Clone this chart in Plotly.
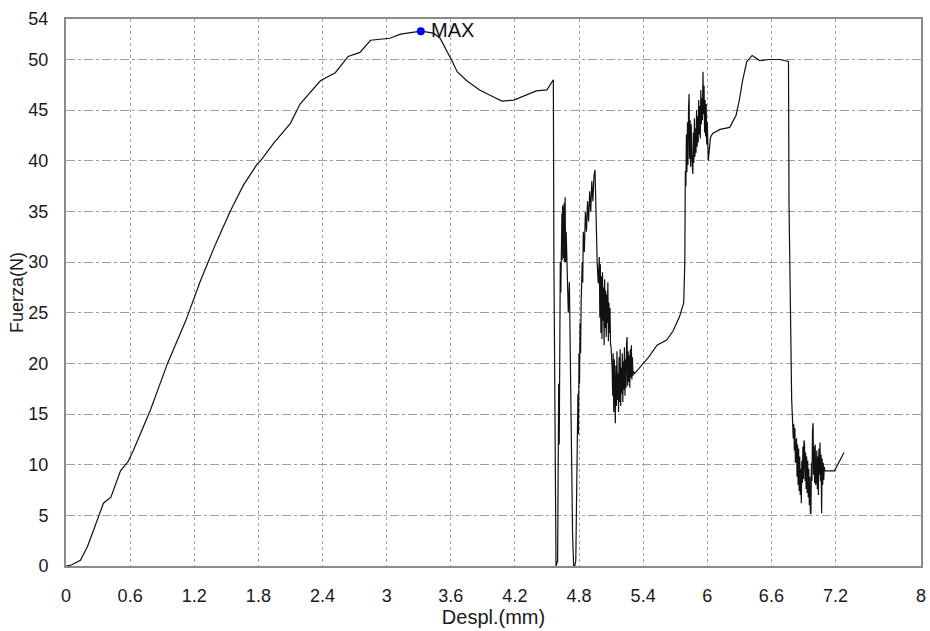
import plotly.graph_objects as go

# ---- Data: displacement (mm) / force (N) ----
# loading branch up to the maximum and the first plateau
rise_x = [0.0, 0.05, 0.135, 0.2, 0.26, 0.32, 0.35, 0.42, 0.51, 0.58, 0.63, 0.79, 0.95, 1.12, 1.26, 1.40,
          1.54, 1.66, 1.79, 1.82, 1.94, 2.10, 2.19, 2.38, 2.52, 2.64, 2.75, 2.85, 2.94, 3.03, 3.13,
          3.27, 3.32, 3.44, 3.50, 3.61, 3.66, 3.75, 3.87, 4.00, 4.08, 4.19, 4.31, 4.40, 4.50, 4.56]
rise_y = [0.0, 0.1, 0.56, 1.9, 3.6, 5.2, 6.2, 6.8, 9.4, 10.3, 11.4, 15.4, 20.0, 24.2, 28.2, 31.8,
          35.1, 37.6, 39.7, 40.0, 41.7, 43.7, 45.6, 47.9, 48.7, 50.3, 50.7, 51.9, 52.0, 52.1, 52.5,
          52.7, 52.8, 52.6, 52.1, 49.9, 48.8, 47.9, 47.0, 46.3, 45.9, 46.0, 46.5, 46.9, 47.0, 48.0]

# first failure and recovery peaks
seg1_x = [4.565, 4.575, 4.585, 4.600, 4.605, 4.610, 4.615, 4.620, 4.625, 4.630, 4.633, 4.636, 4.640,
          4.643, 4.646, 4.650, 4.653, 4.656, 4.660, 4.663, 4.666, 4.670, 4.675, 4.680, 4.690, 4.700,
          4.710, 4.720, 4.730, 4.740, 4.750, 4.760, 4.770, 4.780, 4.785, 4.790, 4.795, 4.800, 4.805,
          4.810, 4.815, 4.820, 4.830, 4.835, 4.840, 4.850, 4.860, 4.870, 4.880, 4.890, 4.900, 4.910,
          4.920, 4.930, 4.940, 4.950, 4.955, 4.960, 4.970, 4.980]
seg1_y = [30.5, 11.5, 0.0, 0.5, 12.0, 18.0, 12.0, 22.0, 30.0, 27.0, 33.5, 29.0, 34.8,
          30.2, 35.6, 31.0, 35.4, 30.4, 35.8, 30.0, 34.6, 36.4, 30.0, 33.0, 29.0, 25.0,
          28.0, 20.0, 9.5, 3.0, 0.0, 0.0, 0.5, 8.0, 12.0, 17.0, 13.0, 21.0, 18.0,
          24.0, 21.0, 26.0, 30.0, 28.0, 33.0, 31.0, 35.0, 33.0, 36.0, 34.0, 37.0, 35.0,
          38.0, 36.0, 38.5, 39.1, 36.0, 33.5, 30.0, 27.9]

# noisy descent 4.99 - 5.31
seg2_x = [4.990, 4.995, 5.000, 5.005, 5.010, 5.015, 5.020, 5.025, 5.030, 5.035, 5.040, 5.045, 5.050,
          5.055, 5.060, 5.065, 5.070, 5.075, 5.080, 5.085, 5.090, 5.095, 5.100, 5.110, 5.115, 5.120,
          5.125, 5.130, 5.135, 5.140, 5.145, 5.150, 5.155, 5.160, 5.165, 5.170, 5.175, 5.180, 5.185,
          5.190, 5.195, 5.200, 5.205, 5.210, 5.215, 5.220, 5.225, 5.230, 5.235, 5.240, 5.245, 5.250,
          5.255, 5.260, 5.265, 5.270, 5.275, 5.280, 5.285, 5.290, 5.295, 5.300, 5.305, 5.310]
seg2_y = [30.5, 24.5, 29.8, 23.0, 28.6, 22.4, 29.0, 24.2, 27.5, 21.8, 28.3, 23.5, 27.2,
          22.6, 26.8, 24.0, 28.0, 22.2, 26.0, 23.0, 25.5, 21.9, 21.6, 19.6, 16.8, 21.0,
          15.2, 20.4, 14.6, 14.1, 19.8, 15.8, 21.2, 16.4, 19.0, 15.2, 20.6, 16.2, 21.4,
          15.8, 19.6, 17.0, 21.0, 16.2, 20.2, 17.4, 21.6, 16.8, 20.4, 17.6, 22.0, 22.6,
          17.8, 21.2, 18.2, 20.8, 17.6, 21.4, 18.6, 21.8, 18.4, 20.6, 18.8, 19.2]

# smooth rise to second noisy block
seg3_x = [5.32, 5.37, 5.42, 5.45, 5.53, 5.62, 5.68, 5.74, 5.78]
seg3_y = [19.0, 19.6, 20.3, 20.6, 21.8, 22.3, 23.2, 24.6, 26.0]

# second noisy block 5.79 - 6.05
seg4_x = [5.790, 5.795, 5.800, 5.805, 5.810, 5.815, 5.820, 5.825, 5.830, 5.835, 5.840, 5.845, 5.850,
          5.855, 5.860, 5.865, 5.870, 5.875, 5.880, 5.885, 5.890, 5.895, 5.900, 5.905, 5.910, 5.915,
          5.920, 5.925, 5.930, 5.935, 5.940, 5.945, 5.950, 5.955, 5.960, 5.965, 5.970, 5.975, 5.980,
          5.985, 5.990, 5.995, 6.000, 6.005, 6.010, 6.030, 6.050]
seg4_y = [30.0, 39.0, 37.5, 42.6, 38.9, 43.8, 39.6, 45.2, 46.6, 40.2, 44.0, 39.4, 43.6,
          40.6, 39.2, 38.7, 42.8, 39.8, 44.2, 40.4, 43.2, 40.8, 45.0, 41.4, 44.4, 41.8,
          46.0, 42.6, 45.4, 42.2, 47.0, 43.6, 46.2, 44.0, 48.8, 44.6, 47.4, 42.8, 46.0,
          42.4, 45.6, 41.6, 43.8, 41.0, 40.0, 42.3, 42.7]

# second plateau
seg5_x = [6.12, 6.21, 6.27, 6.30, 6.33, 6.37, 6.42, 6.49, 6.58, 6.68, 6.76, 6.765]
seg5_y = [43.1, 43.3, 44.5, 46.0, 47.9, 49.8, 50.4, 49.9, 50.0, 50.0, 49.8, 35.8]

# final noisy tail
seg6_x = [6.790, 6.795, 6.800, 6.805, 6.810, 6.815, 6.820, 6.825, 6.830, 6.835, 6.840, 6.845, 6.850,
          6.855, 6.860, 6.865, 6.870, 6.875, 6.880, 6.885, 6.890, 6.895, 6.900, 6.905, 6.910, 6.915,
          6.920, 6.925, 6.930, 6.935, 6.940, 6.945, 6.950, 6.955, 6.960, 6.965, 6.970, 6.975, 6.980,
          6.985, 6.990, 6.995, 7.000, 7.005, 7.010, 7.015, 7.020, 7.025, 7.030, 7.035, 7.040, 7.045,
          7.050, 7.055, 7.060, 7.065, 7.070, 7.075, 7.080, 7.085, 7.090, 7.095, 7.100, 7.190, 7.280]
seg6_y = [16.4, 14.2, 15.0, 12.6, 14.0, 11.4, 13.6, 10.2, 10.8, 12.6, 8.8, 12.0, 8.0,
          11.6, 7.4, 10.8, 7.0, 9.6, 6.2, 10.4, 8.2, 11.8, 8.6, 12.4, 12.1, 8.4,
          11.2, 7.6, 10.8, 7.2, 10.4, 6.8, 9.6, 6.0, 8.8, 5.2, 5.2, 10.2, 8.4,
          13.4, 14.1, 9.0, 11.8, 8.2, 12.0, 8.0, 8.5, 11.4, 7.6, 10.8, 7.0, 11.6,
          9.0, 12.2, 8.4, 11.0, 5.2, 10.6, 8.0, 10.2, 8.5, 9.8, 9.4, 9.4, 11.2]

despl = rise_x + seg1_x + seg2_x + seg3_x + seg4_x + seg5_x + seg6_x
fuerza = rise_y + seg1_y + seg2_y + seg3_y + seg4_y + seg5_y + seg6_y

max_x = [3.32]
max_y = [52.8]
max_label = "MAX"

x_ticks = [0, 0.6, 1.2, 1.8, 2.4, 3.0, 3.6, 4.2, 4.8, 5.4, 6.0, 6.6, 7.2, 8.0]
x_ticktext = ["0", "0.6", "1.2", "1.8", "2.4", "3", "3.6", "4.2", "4.8", "5.4", "6", "6.6", "7.2", "8"]
y_ticks = [0, 5, 10, 15, 20, 25, 30, 35, 40, 45, 50, 54]
y_ticktext = [str(v) for v in y_ticks]

FONT = "Liberation Sans, Arial, sans-serif"

fig = go.Figure()
fig.add_trace(go.Scatter(
    x=despl, y=fuerza, mode="lines",
    line=dict(color="#111111", width=1.2),
    hoverinfo="skip", showlegend=False,
))
fig.add_trace(go.Scatter(
    x=max_x, y=max_y, mode="markers",
    marker=dict(color="#0000ff", size=8),
    hoverinfo="skip", showlegend=False,
))
fig.add_annotation(
    x=max_x[0], y=max_y[0], text=max_label, showarrow=False,
    xanchor="left", yanchor="middle", xshift=8, yshift=1,
    font=dict(family=FONT, size=20, color="#111111"),
)

tick_font = dict(family=FONT, size=18, color="#1a1a1a")

fig.update_layout(
    width=930, height=631,
    margin=dict(l=66, r=9, t=19, b=65),
    paper_bgcolor="white", plot_bgcolor="white",
    showlegend=False,
    xaxis=dict(
        range=[0, 8], tickvals=x_ticks, ticktext=x_ticktext, automargin=False,
        showgrid=True, gridcolor="#a0a0a0", gridwidth=1, griddash="dot",
        showline=True, linecolor="#8a8a8a", linewidth=2, mirror=True,
        zeroline=False, ticks="", ticklabelstandoff=12,
        tickfont=tick_font,
        title=dict(text="Despl.(mm)", font=dict(family=FONT, size=20, color="#1a1a1a"), standoff=4),
    ),
    yaxis=dict(
        range=[0, 54], tickvals=y_ticks, ticktext=y_ticktext, automargin=False,
        showgrid=True, gridcolor="#a0a0a0", gridwidth=1, griddash="dashdot",
        showline=True, linecolor="#8a8a8a", linewidth=2, mirror=True,
        zeroline=False, ticks="", ticklabelstandoff=12,
        tickfont=tick_font,
        title=dict(text="Fuerza(N)", font=dict(family=FONT, size=18, color="#1a1a1a"), standoff=0),
    ),
)

fig.write_html("out.html", config={"displayModeBar": False},
               post_script="document.body.style.margin='0';")
